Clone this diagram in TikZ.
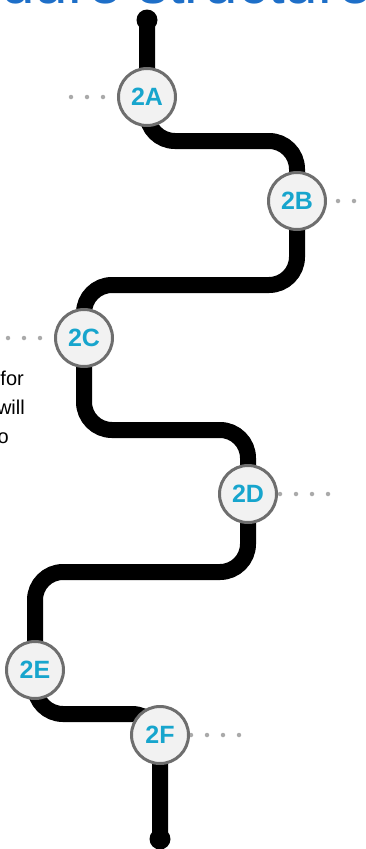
\documentclass[tikz,border=0pt]{standalone}
\usepackage{fontspec}
\setmainfont{Liberation Sans}
\usepackage{tikz}
\usetikzlibrary{backgrounds}

\definecolor{stagecyan}{HTML}{17A5CD}
\definecolor{ringgray}{HTML}{6E6E6E}
\definecolor{discfill}{HTML}{F2F2F2}
\definecolor{dotgray}{HTML}{AAAAAA}
\definecolor{titleblue}{HTML}{1E6FC8}

\begin{document}
\begin{tikzpicture}[
  x=1pt, y=-1pt,
  stage/.style={circle, draw=ringgray, line width=3pt, fill=discfill, minimum size=57pt,
                inner sep=0pt, text=stagecyan, font=\fontsize{25}{30}\selectfont\bfseries},
  enddot/.style={circle, fill=black, minimum size=21pt, inner sep=0pt},
  track/.style={line width=16pt, draw=black, rounded corners=28pt},
  leader/.style={draw=dotgray, line width=4.5pt, line cap=round, dash pattern=on 0pt off 16pt},
  frag/.style={anchor=base east, inner sep=0pt, font=\fontsize{20}{24}\selectfont},
]
\useasboundingbox (0,0) rectangle (365,849);
\node[anchor=base east, inner sep=0pt, text=titleblue, font=\fontsize{60}{70}\selectfont] (title) at (372,3) {Procedure structure};
\node[frag] (fragA) at (24,385) {for};
\node[frag] (fragB) at (25,414) {will};
\node[frag] (fragC) at (9,443) {to};

\node[enddot] (top) at (147,20) {};
\node[enddot] (bot) at (160,839) {};
\node[stage] (A) at (147,97) {2A};
\node[stage] (B) at (297,201) {2B};
\node[stage] (C) at (84,338) {2C};
\node[stage] (D) at (248,494) {2D};
\node[stage] (E) at (35,670) {2E};
\node[stage] (F) at (160,735) {2F};

\coordinate (lA) at (70,97);
\coordinate (lB) at (372,201);
\coordinate (lC) at (-2,338);
\coordinate (lD) at (330,494);
\coordinate (lF) at (242,735);

\begin{scope}[on background layer]
  \draw[track] (top.center) -- (A.center) -- ++(0,44) -| (B.center) -- ++(0,84)
    -| (C.center) -- ++(0,92) -| (D.center) -- ++(0,78) -| (E.center) -- ++(0,44)
    -| (F.center) -- (bot.center);
  \draw[leader, dash phase=2pt] (A.west) -- (lA);
  \draw[leader, dash phase=5pt] (B.east) -- (lB);
  \draw[leader, dash phase=2pt] (C.west) -- (lC);
  \draw[leader, dash phase=14pt] (D.east) -- (lD);
  \draw[leader, dash phase=15pt] (F.east) -- (lF);
\end{scope}
\end{tikzpicture}
\end{document}
